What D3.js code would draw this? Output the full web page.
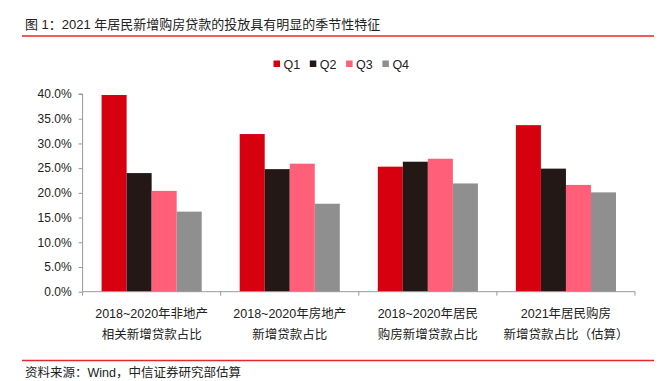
<!DOCTYPE html>
<html><head><meta charset="utf-8">
<script src="https://cdn.jsdelivr.net/npm/d3@7/dist/d3.min.js"></script>
<style>
body{margin:0;background:#fff;}
svg{display:block;font-family:"Liberation Sans","Noto Sans CJK SC",sans-serif;}
</style></head><body>
<svg id="c" width="659" height="381"></svg>
<script>
const categories = [
  ["2018~2020年非地产","相关新增贷款占比"],
  ["2018~2020年房地产","新增贷款占比"],
  ["2018~2020年居民","购房新增贷款占比"],
  ["2021年居民购房","新增贷款占比（估算）"]
];
const seriesNames = ["Q1","Q2","Q3","Q4"];
const Q1 = [0.398, 0.319, 0.253, 0.337];
const Q2 = [0.240, 0.248, 0.263, 0.249];
const Q3 = [0.204, 0.259, 0.269, 0.216];
const Q4 = [0.162, 0.178, 0.219, 0.201];
const yTicks = [0,0.05,0.10,0.15,0.20,0.25,0.30,0.35,0.40];
const colors = ["#d7000f","#231815","#ff5f78","#8f8f8f"];
const title = "图 1：2021 年居民新增购房贷款的投放具有明显的季节性特征";
const source = "资料来源：Wind，中信证券研究部估算";

(function(){
const values = [Q1,Q2,Q3,Q4];
const svg = d3.select("#c");

svg.append("text").attr("x",25).attr("y",29).attr("font-size",13).attr("fill","#222").text(title);
svg.append("line").attr("x1",22).attr("x2",654).attr("y1",36).attr("y2",36).attr("stroke","#e8262b").attr("stroke-width",1.3);
svg.append("line").attr("x1",22).attr("x2",654).attr("y1",360.5).attr("y2",360.5).attr("stroke","#e8262b").attr("stroke-width",1.3);
svg.append("text").attr("x",25).attr("y",377).attr("font-size",12.5).attr("fill","#222").text(source);

const pl=82.6, pr=635, pt=94, pb=291.7;
const x = d3.scaleBand().domain(d3.range(categories.length)).range([pl,pr]).paddingInner(0.275).paddingOuter(0.1375);
const xs = d3.scaleBand().domain(seriesNames).range([0,x.bandwidth()]);
const y = d3.scaleLinear().domain([0,0.40]).range([pb,pt]);

seriesNames.forEach((s,si)=>{
  svg.append("g").selectAll("rect").data(values[si]).join("rect")
    .attr("x",(d,i)=>x(i)+xs(s))
    .attr("width",xs.bandwidth())
    .attr("y",d=>y(d))
    .attr("height",d=>pb-y(d))
    .attr("fill",colors[si]);
});

const yAxis = d3.axisLeft(y).tickValues(yTicks).tickFormat(d3.format(".1%")).tickSize(4).tickPadding(7);
const gy = svg.append("g").attr("transform",`translate(${pl},0)`).call(yAxis);
gy.select(".domain").attr("d",`M-4,${pt}H0V${pb}`);
gy.selectAll("path,line").attr("stroke","#999");
gy.selectAll("text").attr("font-size",12).attr("fill","#222").attr("font-family","Liberation Sans, sans-serif");

const step = x.step();
const boundaries = d3.range(categories.length+1).map(i=>pl+i*step);
svg.append("line").attr("x1",pl).attr("x2",pr).attr("y1",pb).attr("y2",pb).attr("stroke","#999");
svg.append("g").selectAll("line").data(boundaries).join("line")
  .attr("x1",d=>d).attr("x2",d=>d).attr("y1",pb).attr("y2",pb+4).attr("stroke","#999");
const xl = svg.append("g").selectAll("text").data(categories).join("text")
  .attr("text-anchor","middle").attr("font-size",12.5).attr("fill","#222");
xl.each(function(d,i){
  const t=d3.select(this);
  const cx = x(i)+x.bandwidth()/2;
  d.forEach((line,li)=>{
    t.append("tspan").attr("x",cx).attr("y",318+li*21).text(line);
  });
});

const lg = svg.append("g");
seriesNames.forEach((s,i)=>{
  const lx = 273.5 + i*36.3;
  lg.append("rect").attr("x",lx).attr("y",60.5).attr("width",6.5).attr("height",6.5).attr("fill",colors[i]);
  lg.append("text").attr("x",lx+10).attr("y",68.5).attr("font-size",12.5).attr("fill","#222").text(s);
});
})();
</script>
</body></html>
